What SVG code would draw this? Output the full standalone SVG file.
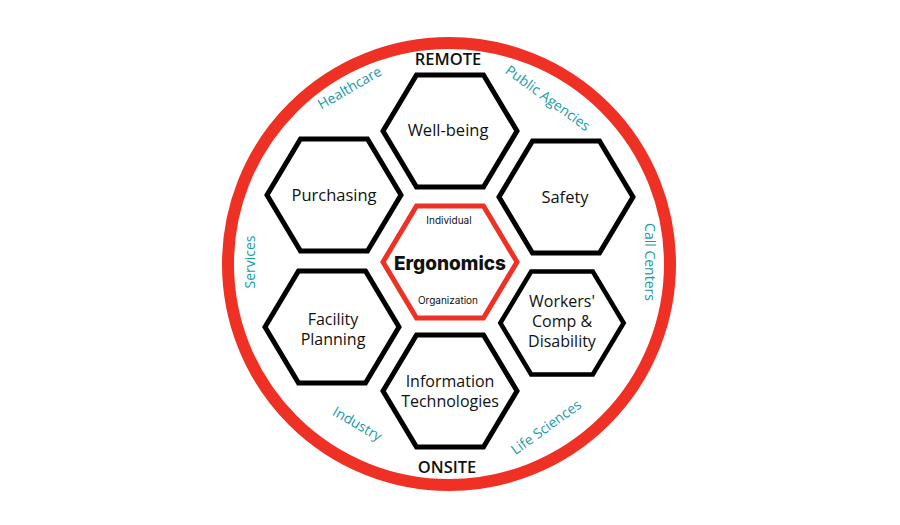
<svg xmlns="http://www.w3.org/2000/svg" width="900" height="525" viewBox="0 0 900 525">
<defs>
<style>
.hex{fill:#fff;stroke:#000;stroke-width:5;stroke-linejoin:miter}
.core{fill:#fff;stroke:#ee3124;stroke-width:5}
.lbl{font-family:"Open Sans","DejaVu Sans",sans-serif;font-size:16.5px;fill:#111;text-anchor:middle}
.ml{font-family:"Open Sans","DejaVu Sans",sans-serif;font-size:16px;fill:#111;text-anchor:middle}
.mk{font-family:"Open Sans","DejaVu Sans",sans-serif;font-size:14px;fill:#1a9aa8;text-anchor:middle}
.hd{font-family:"Open Sans","DejaVu Sans",sans-serif;font-size:16.5px;font-weight:600;fill:#111;text-anchor:middle}
.sm{font-family:"Inter","DejaVu Sans",sans-serif;font-size:10px;fill:#111;text-anchor:middle}
</style>
<polygon id="hx" points="-67,0 -33.5,-56 33.5,-56 67,0 33.5,56 -33.5,56"/>
</defs>
<rect width="900" height="525" fill="#fff"/>
<circle cx="449" cy="264" r="221" fill="none" stroke="#ee3124" stroke-width="12"/>
<g id="connectors"/>
<g id="wellbeing"><use href="#hx" class="hex" transform="translate(450,131)"/><text class="lbl" x="448" y="136">Well-being</text></g>
<g id="purchasing"><use href="#hx" class="hex" transform="translate(334,195)"/><text class="lbl" x="334" y="201">Purchasing</text></g>
<g id="safety"><use href="#hx" class="hex" transform="translate(566,197)"/><text class="lbl" x="565" y="203">Safety</text></g>
<g id="facility"><use href="#hx" class="hex" transform="translate(332,327)"/><text class="ml" x="333" y="325">Facility</text><text class="ml" x="333" y="345">Planning</text></g>
<g id="workers"><use href="#hx" class="hex" transform="translate(562,323) scale(0.92)"/><text class="ml" x="562" y="307">Workers'</text><text class="ml" x="562" y="327">Comp &amp;</text><text class="ml" x="562" y="347">Disability</text></g>
<g id="infotech"><use href="#hx" class="hex" transform="translate(450,391)"/><text class="ml" x="450" y="387">Information</text><text class="ml" x="450" y="407">Technologies</text></g>
<g id="ergonomics"><use href="#hx" class="core" transform="translate(450,262)"/><text class="sm" x="449" y="224">Individual</text><text x="450" y="270" text-anchor="middle" font-family="Inter, 'DejaVu Sans', sans-serif" font-size="19" font-weight="800" fill="#111">Ergonomics</text><text class="sm" x="448" y="304">Organization</text></g>
<g id="remote"><text class="hd" x="448" y="65">REMOTE</text></g>
<g id="onsite"><text class="hd" x="447" y="473">ONSITE</text></g>
<g id="healthcare"><text class="mk" transform="translate(352,92) rotate(-30)">Healthcare</text></g>
<g id="public"><text class="mk" transform="translate(545,102) rotate(36)">Public Agencies</text></g>
<g id="services"><text class="mk" transform="translate(255,262) rotate(-90)">Services</text></g>
<g id="callcenters"><text class="mk" transform="translate(645,262) rotate(90)">Call Centers</text></g>
<g id="industry"><text class="mk" transform="translate(355,428) rotate(30)">Industry</text></g>
<g id="lifesciences"><text class="mk" transform="translate(549,431) rotate(-36)">Life Sciences</text></g>
</svg>
